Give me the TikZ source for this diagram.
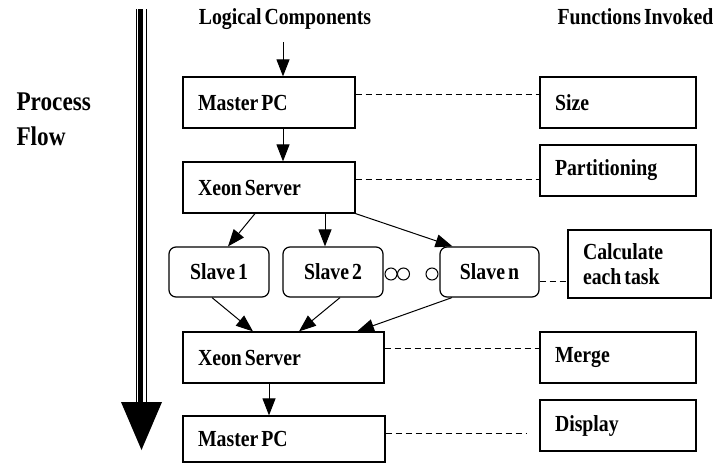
\documentclass[tikz,border=0pt]{standalone}
\usepackage{fontspec}
\setmainfont{Liberation Serif}[FakeStretch=0.86, WordSpace=0.6]
\usetikzlibrary{arrows.meta}

\tikzset{
  block/.style={draw, fill=white, line width=1.2pt, inner xsep=15pt, inner ysep=0pt, align=flush left, minimum height=51pt},
  slavebox/.style={draw, fill=white, line width=1.2pt, rounded corners=7pt, minimum width=100pt, minimum height=50pt, inner sep=0pt},
  arr/.style={-{Triangle[length=17pt,width=13pt]}, line width=1pt},
  link/.style={line width=1pt, dash pattern=on 6pt off 4pt}
}

\begin{document}
\begin{tikzpicture}[x=1pt, y=-1pt, font=\fontsize{23}{26}\selectfont\bfseries]
				\useasboundingbox (0,0) rectangle (726,463);
				% headings
				\node (logical) [anchor=base] at (285,24) {Logical Components};
				\node (invoked) [anchor=base west] at (554,24) {Functions Invoked};
				\node (proc) [anchor=base west, font=\fontsize{27}{30}\selectfont\bfseries] at (13,110) {Process};
				\node (flow) [anchor=base west, font=\fontsize{27}{30}\selectfont\bfseries] at (13,145) {Flow};
				% process flow arrow
				\coordinate (flowtop) at (141,9);
				\coordinate (flowbase) at (141,402);
				\draw[line width=5.5pt] ([xshift=-0.5pt]flowtop) -- ([xshift=-0.5pt]flowbase);
				\draw[line width=1pt] ([xshift=-5pt]flowtop) -- ([xshift=-5pt]flowbase);
				\draw[line width=1pt] ([xshift=5pt]flowtop) -- ([xshift=5pt]flowbase);
				\fill (121,402) -- (162,402) -- (141.5,450) -- cycle;
				% dots between slaves
				\draw[line width=1pt] (391,274) circle[radius=6pt];
				\draw[line width=1pt] (403.5,274) circle[radius=6pt];
				\draw[line width=1pt] (432,274) circle[radius=6pt];
				% logical components
				\node (mpcA) [block, text width=142pt] at (269,102.5) {Master PC};
				\node (xeonA) [block, text width=142pt] at (269,187.5) {Xeon Server};
				\node (slaveA) [slavebox] at (219,272) {Slave 1};
				\node (slaveB) [slavebox] at (333,272) {Slave 2};
				\node (slaveN) [slavebox, minimum width=99pt] at (489.5,272) {Slave n};
				\node (xeonB) [block, text width=171pt] at (283.5,357.5) {Xeon Server};
				\node (mpcB) [block, text width=172pt, minimum height=46pt] at (284,439) {Master PC};
				% functions invoked
				\node (size) [block, text width=126pt] at (618,102.5) {Size};
				\node (part) [block, text width=126pt] at (618,170.5) {Partitioning};
				\node (calc) [block, text width=113pt, minimum height=68pt, font=\fontsize{23}{25}\selectfont\bfseries] at (639.5,264) {Calculate\\each task};
				\node (merge) [block, text width=126pt] at (618,357.5) {Merge};
				\node (display) [block, text width=126pt] at (618,425.5) {Display};
				% flow connectors
				\coordinate (start) at (283,42);
				\draw[arr] (start) -- (start |- mpcA.north);
				\draw[arr] (start |- mpcA.south) -- (start |- xeonA.north);
				\draw[arr] ([xshift=-14pt]xeonA.south) -- ([xshift=9pt]slaveA.north);
				\draw[arr] ([xshift=56pt]xeonA.south) -- ([xshift=56pt]xeonA.south |- slaveB.north);
				\draw[arr] (xeonA.south east) -- ([xshift=-37pt]slaveN.north);
				\draw[arr] ([xshift=-7pt]slaveA.south) -- ([xshift=-30.5pt]xeonB.north);
				\draw[arr] ([xshift=7pt]slaveB.south) -- ([xshift=15.5pt]xeonB.north);
				\draw[arr] ([xshift=-37.5pt]slaveN.south) -- ([xshift=73.5pt]xeonB.north);
				\draw[arr] ([xshift=-14.5pt]xeonB.south) -- ([xshift=-14.5pt]xeonB.south |- mpcB.north);
				% dashed links
				\coordinate (dispend) at (526,433);
				\draw[link] (mpcA.east |- 0,94) -- (size.west |- 0,94);
				\draw[link] (xeonA.east |- 0,179) -- (part.west |- 0,179);
				\draw[link] (slaveN.east |- 0,281) -- (calc.west |- 0,281);
				\draw[link] (xeonB.east |- 0,348) -- (merge.west |- 0,348);
				\draw[link] (mpcB.east |- 0,433) -- (dispend);
			\end{tikzpicture}
\end{document}
